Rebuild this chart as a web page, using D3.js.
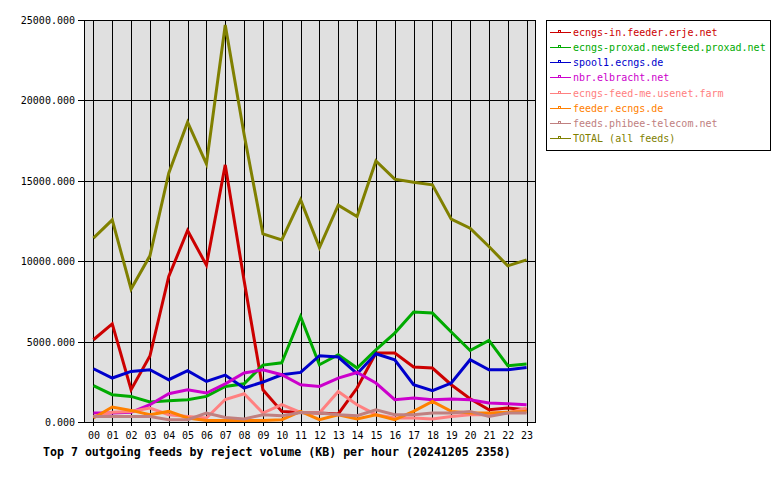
<!DOCTYPE html>
<html><head><meta charset="utf-8">
<script src="https://cdn.jsdelivr.net/npm/d3@7/dist/d3.min.js"></script>
<style>
html,body{margin:0;padding:0;background:#fff;}
svg text{font-family:"DejaVu Sans Mono","Liberation Mono",monospace;}
</style>
</head><body>
<svg id="chart" width="780" height="480"></svg>
<script>
const hours = ["00","01","02","03","04","05","06","07","08","09","10","11","12","13","14","15","16","17","18","19","20","21","22","23"];
const yTicks = [0, 5000, 10000, 15000, 20000, 25000];
const seriesNames = ["ecngs-in.feeder.erje.net","ecngs-proxad.newsfeed.proxad.net","spool1.ecngs.de","nbr.elbracht.net","ecngs-feed-me.usenet.farm","feeder.ecngs.de","feeds.phibee-telecom.net","TOTAL (all feeds)"];
const seriesColors = ["#cc0000","#00aa00","#0000cc","#cc00cc","#ff8080","#ff8000","#c08080","#808000"];
const erje    = [5114,6108,2007,4100,9048,11906,9756,15989,8800,2007,659,597,560,500,2113,4288,4288,3418,3356,2318,1450,764,870,764];
const proxad  = [2256,1696,1591,1243,1323,1386,1591,2212,2380,3540,3680,6562,3560,4182,3356,4493,5530,6835,6773,5593,4449,5071,3498,3604];
const spool1  = [3312,2734,3146,3250,2629,3188,2523,2920,2113,2486,2939,3082,4120,4039,3001,4244,3871,2318,1945,2423,3871,3250,3250,3393];
const elbracht= [559,559,600,1075,1759,2007,1802,2370,3045,3250,2939,2318,2212,2734,3082,2423,1386,1491,1386,1429,1386,1181,1137,1075];
const usenetFarm = [348,600,659,870,454,348,249,1400,1760,559,1075,597,559,1902,1075,454,249,249,186,348,454,454,559,870];
const feederEcngs= [249,932,721,454,659,249,100,100,100,100,143,659,143,454,186,454,143,659,1280,659,559,559,600,659];
const phibee  = [348,348,348,348,143,143,559,286,186,454,390,597,559,454,390,764,454,454,559,559,659,348,559,559];
const total   = [11434,12571,8265,10334,15473,18642,16051,24689,17900,11701,11328,13814,10850,13484,12776,16237,15100,14914,14746,12615,12055,10912,9713,10086];
const seriesValues = [erje, proxad, spool1, elbracht, usenetFarm, feederEcngs, phibee, total];
const titleText = "Top 7 outgoing feeds by reject volume (KB) per hour (20241205 2358)";

const svg = d3.select("#chart");
const L = 84, R = 536, T = 20, B = 422;
const x = d3.scaleLinear().domain([-0.5, 23.5]).range([L, R]);
const y = d3.scaleLinear().domain([0, 25000]).range([B, T]);

svg.append("rect").attr("x", L).attr("y", T).attr("width", R - L).attr("height", B - T).attr("fill", "#e0e0e0");

const g = svg.append("g").attr("shape-rendering", "crispEdges");
// vertical grid
g.selectAll("line.vg").data(hours).enter().append("line")
  .attr("x1", (d, i) => Math.round(x(i)) + 0.5).attr("x2", (d, i) => Math.round(x(i)) + 0.5)
  .attr("y1", T).attr("y2", B + 4).attr("stroke", "#000");
// horizontal grid
g.selectAll("line.hg").data(yTicks).enter().append("line")
  .attr("x1", L - 6).attr("x2", R)
  .attr("y1", d => Math.round(y(d)) + 0.5).attr("y2", d => Math.round(y(d)) + 0.5).attr("stroke", "#000");
// border
g.append("rect").attr("x", L + 0.5).attr("y", T + 0.5).attr("width", R - L - 1).attr("height", B - T)
  .attr("fill", "none").attr("stroke", "#000");

// y labels
svg.selectAll("text.yl").data(yTicks).enter().append("text")
  .attr("x", 75).attr("y", d => y(d) + 4).attr("text-anchor", "end")
  .attr("font-size", "10px").attr("fill", "#000").text(d => d.toFixed(3));
// x labels
svg.selectAll("text.xl").data(hours).enter().append("text")
  .attr("x", (d, i) => x(i) + 0.5).attr("y", 439).attr("text-anchor", "middle")
  .attr("font-size", "10px").attr("fill", "#000").text(d => d);

// lines
const line = d3.line().x((d, i) => x(i)).y(d => y(d));
const clipG = svg.append("g");
seriesValues.forEach((vals, k) => {
  clipG.append("path").datum(vals).attr("d", line)
    .attr("fill", "none").attr("stroke", seriesColors[k]).attr("stroke-width", 3)
    .attr("stroke-linejoin", "miter");
});

// title
svg.append("text").attr("x", 43).attr("y", 456).attr("font-size", "11.6px").attr("font-weight", "bold")
  .attr("fill", "#000").text(titleText);

// legend
const lg = svg.append("g").attr("shape-rendering", "crispEdges");
lg.append("rect").attr("x", 546.5).attr("y", 20.5).attr("width", 224).attr("height", 130)
  .attr("fill", "#fff").attr("stroke", "#000");
seriesNames.forEach((name, k) => {
  const cy = 32 + k * 15.15;
  const yy = Math.round(cy) + 0.5;
  lg.append("line").attr("x1", 550).attr("x2", 571).attr("y1", yy).attr("y2", yy).attr("stroke", seriesColors[k]);
  lg.append("rect").attr("x", 558.5).attr("y", yy - 2).attr("width", 2).attr("height", 2)
    .attr("fill", "none").attr("stroke", seriesColors[k]);
  svg.append("text").attr("x", 573).attr("y", cy + 4).attr("font-size", "10px")
    .attr("fill", seriesColors[k]).text(name);
});
</script>
</body></html>
